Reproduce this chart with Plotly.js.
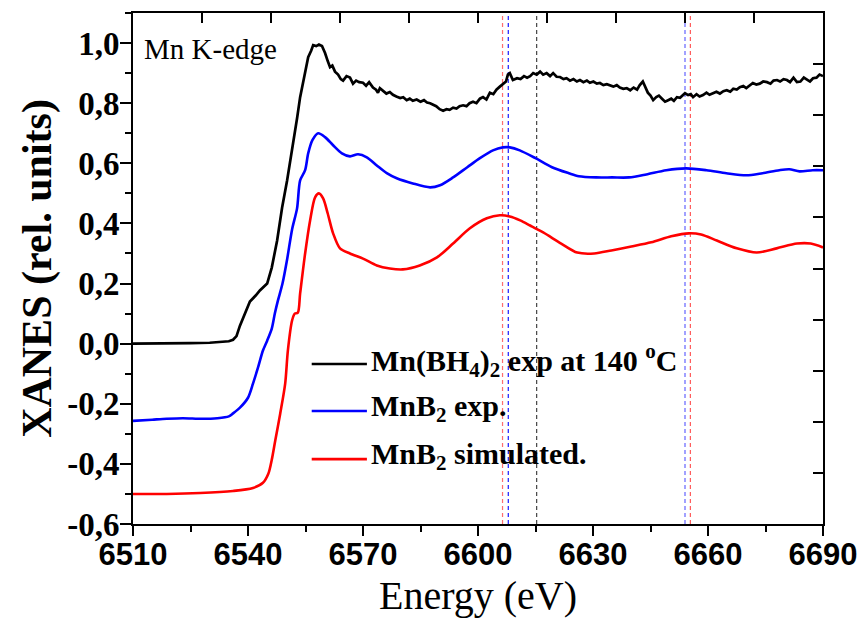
<!DOCTYPE html>
<html>
<head>
<meta charset="utf-8">
<script src="https://cdn.plot.ly/plotly-3.0.1.min.js"></script>
<style>
  html, body { margin: 0; padding: 0; background: #fff; }
  #chart { width: 861px; height: 630px; }
</style>
</head>
<body>
<div id="chart"></div>
<script>
// Mn K-edge XANES spectra (curves offset vertically)

// Mn(BH4)2 measured at 140 °C
const energyMnBH4 = [6510, 6515, 6520, 6525, 6530, 6533, 6535, 6536.1, 6537, 6537.9, 6538.8, 6539.7, 6540.5, 6542, 6543.1, 6545, 6546.2, 6547.6, 6548.9, 6550.2, 6551.5, 6552.8, 6553.6, 6554.9, 6555.7, 6556.5, 6557, 6557.8, 6558.5, 6559.3, 6560.1, 6560.8, 6561.4, 6562, 6562.7, 6563.5, 6564.2, 6564.8, 6565.7, 6566.6, 6567.4, 6568.2, 6569, 6570, 6570.8, 6571.6, 6572.6, 6573.4, 6573.9, 6574.4, 6575.3, 6576.1, 6577, 6577.8, 6578.7, 6579.7, 6580.5, 6581.4, 6582.2, 6583, 6584, 6585, 6585.9, 6586.7, 6587.5, 6588.3, 6589.1, 6590, 6590.9, 6591.8, 6592.6, 6593.5, 6594.4, 6595.2, 6596.1, 6597, 6597.8, 6598.7, 6599.6, 6600.5, 6601.3, 6602.2, 6603.1, 6604, 6604.8, 6605.7, 6606.5, 6607.3, 6607.8, 6608.3, 6609.1, 6610.2, 6611.1, 6612, 6612.8, 6613.6, 6614.4, 6615.3, 6616.2, 6617, 6617.9, 6618.8, 6619.6, 6620.5, 6621.4, 6622.3, 6623.1, 6624, 6624.9, 6625.8, 6626.6, 6627.5, 6628.4, 6629.2, 6630.1, 6631, 6631.8, 6632.7, 6633.6, 6634.4, 6635.3, 6636.2, 6637, 6637.9, 6638.8, 6639.7, 6640.6, 6641.5, 6642.2, 6643, 6643.6, 6644.3, 6645, 6645.7, 6646.5, 6647.2, 6648, 6648.8, 6649.6, 6650.4, 6651.1, 6651.9, 6652.7, 6653.4, 6654, 6654.8, 6655.5, 6656.1, 6657, 6657.8, 6658.7, 6659.6, 6660.4, 6661.3, 6662.2, 6663.1, 6664, 6664.9, 6665.8, 6666.6, 6667.5, 6668.3, 6669.2, 6670, 6670.9, 6671.7, 6672.6, 6673.5, 6674.4, 6675.4, 6676.3, 6677.1, 6678, 6678.8, 6679.7, 6680.6, 6681.4, 6682.3, 6683.2, 6684.1, 6685, 6685.8, 6686.6, 6687.4, 6688.3, 6689.1, 6690];
const xanesMnBH4 = [0.0, 0.0, 0.001, 0.002, 0.003, 0.005, 0.008, 0.013, 0.025, 0.06, 0.09, 0.115, 0.14, 0.16, 0.177, 0.2, 0.253, 0.343, 0.453, 0.543, 0.643, 0.75, 0.82, 0.91, 0.953, 0.975, 0.993, 0.99, 0.995, 0.99, 0.967, 0.94, 0.92, 0.925, 0.905, 0.895, 0.88, 0.875, 0.89, 0.885, 0.865, 0.875, 0.87, 0.868, 0.858, 0.87, 0.852, 0.845, 0.835, 0.85, 0.84, 0.832, 0.837, 0.828, 0.822, 0.817, 0.82, 0.81, 0.815, 0.808, 0.812, 0.805, 0.81, 0.802, 0.8, 0.795, 0.79, 0.78, 0.775, 0.78, 0.778, 0.785, 0.782, 0.79, 0.793, 0.79, 0.8, 0.805, 0.8, 0.815, 0.82, 0.812, 0.835, 0.83, 0.845, 0.855, 0.865, 0.872, 0.895, 0.9, 0.877, 0.883, 0.88, 0.89, 0.885, 0.89, 0.9, 0.895, 0.905, 0.895, 0.9, 0.89, 0.9, 0.888, 0.887, 0.88, 0.883, 0.875, 0.88, 0.872, 0.877, 0.87, 0.875, 0.868, 0.872, 0.865, 0.867, 0.86, 0.863, 0.858, 0.855, 0.86, 0.852, 0.848, 0.85, 0.843, 0.852, 0.845, 0.86, 0.872, 0.855, 0.835, 0.825, 0.81, 0.82, 0.825, 0.815, 0.805, 0.81, 0.815, 0.808, 0.82, 0.818, 0.828, 0.833, 0.827, 0.83, 0.82, 0.83, 0.822, 0.827, 0.835, 0.828, 0.833, 0.838, 0.832, 0.84, 0.843, 0.838, 0.848, 0.845, 0.853, 0.857, 0.85, 0.86, 0.867, 0.862, 0.865, 0.872, 0.87, 0.865, 0.875, 0.877, 0.872, 0.88, 0.877, 0.87, 0.885, 0.87, 0.872, 0.885, 0.877, 0.872, 0.883, 0.885, 0.895, 0.89];

// MnB2 reference, measured
const energyMnB2Exp = [6510, 6515, 6518.8, 6523, 6528, 6532, 6535, 6536.1, 6537.9, 6540, 6541.3, 6542.6, 6543.9, 6545, 6546.2, 6547, 6547.8, 6549, 6550.2, 6551.5, 6552.8, 6553.6, 6554.9, 6555.7, 6556.8, 6558.3, 6560.1, 6562.2, 6564.5, 6566.6, 6568.7, 6571, 6573.6, 6576.2, 6578.8, 6583, 6587.5, 6590.1, 6593.5, 6597.2, 6600.5, 6603.9, 6606.5, 6608.3, 6610.9, 6615, 6619.3, 6623.7, 6626.3, 6630.8, 6635, 6639.4, 6643.9, 6649.1, 6654.3, 6659.6, 6664.8, 6670, 6674.2, 6678.6, 6681.2, 6683.9, 6687.3, 6690];
const xanesMnB2Exp = [-0.257, -0.253, -0.25, -0.248, -0.25, -0.248, -0.242, -0.232, -0.213, -0.18, -0.133, -0.08, -0.023, 0.01, 0.05, 0.1, 0.143, 0.2, 0.28, 0.38, 0.45, 0.543, 0.577, 0.633, 0.677, 0.7, 0.687, 0.66, 0.633, 0.623, 0.63, 0.62, 0.593, 0.567, 0.55, 0.533, 0.52, 0.527, 0.553, 0.587, 0.617, 0.643, 0.653, 0.653, 0.643, 0.617, 0.587, 0.567, 0.557, 0.553, 0.553, 0.553, 0.563, 0.577, 0.583, 0.577, 0.567, 0.56, 0.567, 0.577, 0.58, 0.573, 0.577, 0.577];

// MnB2 reference, simulated
const energyMnB2Sim = [6510, 6518.8, 6527.5, 6536.1, 6541.3, 6543.9, 6545.3, 6546.3, 6547.1, 6548.4, 6549.7, 6550.4, 6551.5, 6552.2, 6553, 6553.6, 6554.9, 6556.2, 6557.5, 6558.5, 6559.6, 6560.8, 6562.2, 6564, 6566.6, 6570, 6573.6, 6577, 6580.4, 6584.8, 6589.3, 6593.5, 6597.8, 6602.3, 6605.7, 6608.3, 6611, 6613.6, 6617, 6621.7, 6625.9, 6630.3, 6634.8, 6640, 6645.2, 6650.4, 6655, 6658.2, 6662.3, 6667.5, 6672.7, 6677.9, 6683.2, 6686.8, 6690];
const xanesMnB2Sim = [-0.5, -0.5, -0.497, -0.49, -0.48, -0.463, -0.433, -0.38, -0.323, -0.233, -0.133, -0.023, 0.077, 0.1, 0.103, 0.167, 0.3, 0.41, 0.487, 0.5, 0.483, 0.433, 0.367, 0.317, 0.3, 0.283, 0.26, 0.25, 0.247, 0.26, 0.287, 0.333, 0.383, 0.417, 0.427, 0.423, 0.41, 0.393, 0.37, 0.333, 0.303, 0.3, 0.31, 0.323, 0.337, 0.357, 0.367, 0.363, 0.343, 0.317, 0.303, 0.317, 0.333, 0.333, 0.32];

// Feature positions marked with dashed guides (eV)
const guideEnergies = [6606.4, 6607.9, 6615.3, 6654.0, 6655.4];
const guideColors = ['rgba(255,60,60,0.75)', '#1a1aff', '#444444', 'rgba(60,60,255,0.8)', 'rgba(255,60,60,0.85)'];

const seriesNames = [
  'Mn(BH<sub>4</sub>)<sub>2</sub> exp at 140 <sup>o</sup>C',
  'MnB<sub>2</sub> exp.',
  'MnB<sub>2</sub> simulated.'
];
const seriesColors = ['#000000', '#0000ff', '#ff0000'];

const yTickVals = [-0.6, -0.4, -0.2, 0.0, 0.2, 0.4, 0.6, 0.8, 1.0];
const yTickText = ['-0,6', '-0,4', '-0,2', '0,0', '0,2', '0,4', '0,6', '0,8', '1,0'];
const xTickVals = [6510, 6540, 6570, 6600, 6630, 6660, 6690];

const serif = 'Liberation Serif, Times New Roman, serif';
const sans = 'Liberation Sans, Arial, sans-serif';

const traces = [
  { x: energyMnBH4, y: xanesMnBH4, name: seriesNames[0], mode: 'lines',
    line: { color: seriesColors[0], width: 2.7 } },
  { x: energyMnB2Exp, y: xanesMnB2Exp, name: seriesNames[1], mode: 'lines',
    line: { color: seriesColors[1], width: 2.6, shape: 'spline', smoothing: 0.8 } },
  { x: energyMnB2Sim, y: xanesMnB2Sim, name: seriesNames[2], mode: 'lines',
    line: { color: seriesColors[2], width: 2.6, shape: 'spline', smoothing: 0.8 } },
  // empty trace so the top / right tick axes get their own subplot
  { x: [], y: [], xaxis: 'x2', yaxis: 'y2', hoverinfo: 'skip' }
];

// dashed guides across the full plot height
const shapes = guideEnergies.map((e, i) => ({
  type: 'line', xref: 'x', yref: 'paper', x0: e, x1: e, y0: 0, y1: 1,
  line: { color: guideColors[i], width: 1.2, dash: '4px,3px' }, layer: 'below'
}));

// hand-placed key: a line sample and a label for each spectrum
const keyRowY = [0.319, 0.227, 0.133];
const keyLineX = [0.259, 0.339];
const keyTextX = 0.342;
seriesNames.forEach((name, i) => {
  shapes.push({
    type: 'line', xref: 'paper', yref: 'paper',
    x0: keyLineX[0], x1: keyLineX[1], y0: keyRowY[i] - 0.006, y1: keyRowY[i] - 0.006,
    line: { color: seriesColors[i], width: 2.6 }
  });
});
const keyLabels = seriesNames.map((name, i) => ({
  text: name, xref: 'paper', yref: 'paper', x: keyTextX, y: keyRowY[i],
  xanchor: 'left', yanchor: 'middle', showarrow: false,
  font: { family: serif, size: 30, color: '#000', weight: 700 }
}));

const layout = {
  width: 861, height: 630,
  margin: { l: 133, r: 38, t: 13, b: 106 },
  paper_bgcolor: '#ffffff', plot_bgcolor: '#ffffff',
  showlegend: false,
  xaxis: {
    range: [6510, 6690], tickmode: 'array', tickvals: xTickVals,
    ticks: 'outside', ticklen: 10, tickwidth: 2, tickcolor: '#000',
    minor: { tickmode: 'linear', tick0: 6510, dtick: 15, ticks: 'outside', ticklen: 6, tickwidth: 2, tickcolor: '#000' },
    showline: true, linewidth: 2, linecolor: '#000', showgrid: false, zeroline: false,
    tickfont: { family: sans, size: 31, color: '#000', weight: 700 },
    ticklabelstandoff: -8,
    title: { text: 'Energy (eV)', font: { family: serif, size: 40, color: '#000' }, standoff: 10 },
    automargin: false
  },
  yaxis: {
    range: [-0.6, 1.1], tickmode: 'array', tickvals: yTickVals, ticktext: yTickText,
    ticks: 'outside', ticklen: 11, tickwidth: 2, tickcolor: '#000',
    minor: { tickmode: 'linear', tick0: -0.6, dtick: 0.1, ticks: 'outside', ticklen: 6, tickwidth: 2, tickcolor: '#000' },
    showline: true, linewidth: 2, linecolor: '#000', showgrid: false, zeroline: false,
    tickfont: { family: serif, size: 33, color: '#000', weight: 700 },
    ticklabelstandoff: -6,
    title: { text: 'XANES (rel. units)', font: { family: serif, size: 42, color: '#000', weight: 700 }, standoff: 2 },
    automargin: false
  },
  xaxis2: {
    overlaying: 'x', side: 'top', anchor: 'y2', range: [6510, 6690],
    tickmode: 'linear', tick0: 6510, dtick: 18, ticks: 'inside', ticklen: 10, tickwidth: 2, tickcolor: '#000',
    showticklabels: false, showline: true, linewidth: 2, linecolor: '#000', showgrid: false, zeroline: false
  },
  yaxis2: {
    overlaying: 'y', side: 'right', anchor: 'x2', range: [-0.6, 1.1],
    tickmode: 'linear', tick0: -0.6, dtick: 0.17, ticks: 'inside', ticklen: 10, tickwidth: 2, tickcolor: '#000',
    showticklabels: false, showline: true, linewidth: 2, linecolor: '#000', showgrid: false, zeroline: false
  },
  shapes: shapes,
  annotations: [{
    text: 'Mn K-edge', xref: 'paper', yref: 'paper', x: 0.013, y: 0.93,
    xanchor: 'left', yanchor: 'middle', showarrow: false,
    font: { family: serif, size: 29, color: '#000' }
  }].concat(keyLabels)
};

Plotly.newPlot('chart', traces, layout, { displayModeBar: false, staticPlot: true });
</script>
</body>
</html>
